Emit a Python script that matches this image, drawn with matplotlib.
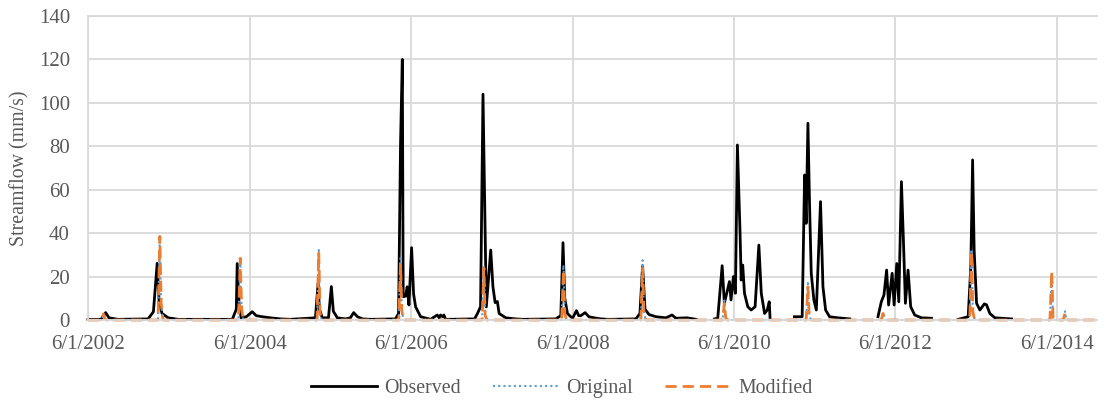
import numpy as np
import pandas as pd
import matplotlib
matplotlib.use("Agg")
import matplotlib.pyplot as plt

# observed streamflow (nan = missing record)
obs_dates = [
    "2002-06-01", "2002-07-30", "2002-08-20", "2002-09-04", "2002-10-15",
    "2003-02-28", "2003-03-24", "2003-04-10", "2003-04-19", "2003-05-02", "2003-05-30", "2003-07-14",
    "2004-03-15", "2004-04-02", "2004-04-06", "2004-04-15", "2004-04-24", "2004-05-17", "2004-06-13",
    "2004-07-01", "2004-07-29", "2004-09-03", "2004-10-18", "2004-12-02",
    "2005-03-26", "2005-04-07", "2005-04-13", "2005-04-26", "2005-05-24", "2005-06-06", "2005-06-15",
    "2005-07-03", "2005-08-09", "2005-08-31", "2005-09-15", "2005-10-02", "2005-10-25", "2005-11-30",
    "2006-03-23", "2006-04-06", "2006-04-15", "2006-04-23", "2006-04-27", "2006-05-08", "2006-05-15",
    "2006-05-23", "2006-06-04", "2006-06-13", "2006-06-22", "2006-07-15", "2006-08-29", "2006-09-28",
    "2006-10-07", "2006-10-13", "2006-10-22", "2006-10-28", "2006-11-05",
    "2007-03-16", "2007-03-29", "2007-04-12", "2007-04-23", "2007-05-08", "2007-05-28", "2007-06-07",
    "2007-06-17", "2007-06-27", "2007-07-05", "2007-08-04", "2007-09-18", "2007-10-20",
    "2008-03-17", "2008-04-09", "2008-04-19", "2008-04-27", "2008-05-09", "2008-05-24", "2008-06-02",
    "2008-06-19", "2008-06-29", "2008-07-09", "2008-07-28", "2008-08-14", "2008-09-07", "2008-10-07",
    "2008-11-10",
    "2009-03-15", "2009-04-02", "2009-04-14", "2009-04-25", "2009-05-13", "2009-06-14", "2009-07-29",
    "2009-08-25", "2009-09-12", "2009-10-31", "2009-12-12", "2010-01-20",
    "2010-03-05", "2010-03-20", "2010-04-09", "2010-04-19", "2010-05-12", "2010-05-19", "2010-05-30",
    "2010-06-08", "2010-06-17", "2010-06-29", "2010-07-04", "2010-07-11", "2010-07-19", "2010-08-03",
    "2010-08-18", "2010-09-05", "2010-09-22", "2010-10-03", "2010-10-18", "2010-10-30", "2010-11-08",
    "2010-11-12", "2011-01-01",
    "2011-03-02", "2011-04-06", "2011-04-17", "2011-04-24", "2011-05-02", "2011-05-09", "2011-05-17",
    "2011-05-29", "2011-06-09", "2011-06-28", "2011-07-09", "2011-07-21", "2011-08-08", "2011-09-15",
    "2011-11-07", "2012-01-01",
    "2012-03-14", "2012-03-29", "2012-04-10", "2012-04-22", "2012-05-01", "2012-05-17", "2012-05-26",
    "2012-06-07", "2012-06-16", "2012-06-28", "2012-07-07", "2012-07-16", "2012-07-28", "2012-08-09",
    "2012-08-27", "2012-09-26", "2012-11-11", "2013-01-01",
    "2013-03-12", "2013-04-26", "2013-05-08", "2013-05-16", "2013-05-23", "2013-06-03", "2013-06-18",
    "2013-07-08", "2013-07-18", "2013-08-02", "2013-08-25", "2013-11-08",
]
obs_flow = [
    0.3, 0.3, 3.4, 1.0, 0.3,
    0.5, 3.8, 26.1, 8.0, 3.0, 1.0, 0.3,
    0.3, 5.0, 26.0, 6.0, 1.0, 1.5, 3.8,
    2.0, 1.5, 1.0, 0.5, 0.3,
    1.0, 17.0, 5.0, 1.0, 1.0, 15.4, 4.0,
    1.0, 0.5, 1.0, 3.4, 1.5, 0.5, 0.3,
    0.5, 3.0, 81.4, 120.0, 10.7, 11.0, 15.3,
    6.9, 33.3, 12.0, 6.1, 1.5, 0.3, 2.3,
    1.0, 2.3, 1.5, 2.3, 0.3,
    0.5, 3.0, 6.1, 104.0, 6.0, 32.2, 15.3,
    8.0, 8.5, 3.0, 1.0, 0.5, 0.3,
    0.5, 2.0, 35.6, 10.0, 3.0, 1.5, 1.0,
    4.3, 2.0, 2.0, 3.4, 1.5, 1.0, 0.5,
    0.3,
    0.5, 3.0, 25.0, 5.0, 2.5, 1.5, 1.0,
    2.3, 0.8, 1.0, 0.3, np.nan,
    0.5, 0.8, 25.0, 7.7, 17.7, 9.2, 20.0,
    12.3, 80.6, 40.0, 18.4, 25.3, 12.3, 6.1,
    4.6, 6.1, 34.5, 12.3, 3.0, 4.6, 8.4,
    0.3, np.nan,
    1.5, 1.5, 66.8, 44.5, 90.6, 55.0, 21.5,
    9.2, 4.6, 54.5, 15.3, 4.6, 1.5, 1.0,
    0.5, np.nan,
    1.5, 8.4, 11.5, 23.0, 6.9, 21.5, 6.9,
    26.0, 8.4, 63.7, 36.8, 7.7, 23.0, 6.1,
    2.3, 1.0, 0.8, np.nan,
    0.3, 1.5, 24.6, 73.7, 32.2, 7.7, 4.6,
    7.4, 7.0, 3.0, 1.0, 0.5,
]

# simulated series (original and modified model) share the same dates
sim_dates = [
    "2002-06-01",
    "2002-08-02", "2002-08-10", "2002-08-16", "2002-08-24",
    "2003-04-14", "2003-04-22", "2003-04-28", "2003-05-06",
    "2004-04-12", "2004-04-20", "2004-04-26", "2004-05-04",
    "2005-04-02", "2005-04-10", "2005-04-16", "2005-04-24",
    "2006-04-07", "2006-04-15", "2006-04-21", "2006-04-29",
    "2007-04-19", "2007-04-27", "2007-05-03", "2007-05-11",
    "2008-04-13", "2008-04-21", "2008-04-27", "2008-05-05",
    "2009-04-06", "2009-04-14", "2009-04-20", "2009-04-28",
    "2010-04-11", "2010-04-19", "2010-04-25", "2010-05-03",
    "2011-04-24", "2011-05-02", "2011-05-08", "2011-05-16",
    "2012-03-29", "2012-04-06", "2012-04-12", "2012-04-20",
    "2013-05-03", "2013-05-11", "2013-05-17", "2013-05-25",
    "2014-05-01", "2014-05-09", "2014-05-15", "2014-05-23",
    "2014-06-30", "2014-07-08", "2014-07-14", "2014-07-22",
    "2014-11-30",
]
original = [
    0.0,
    0.0, 2.5, 0.5, 0.0,
    0.0, 37.5, 7.0, 0.0,
    0.0, 28.5, 5.0, 0.0,
    0.0, 32.2, 3.0, 0.0,
    0.0, 28.4, 4.0, 0.0,
    0.0, 25.0, 2.0, 0.0,
    0.0, 25.3, 3.0, 0.0,
    0.0, 27.5, 4.0, 0.0,
    0.0, 9.0, 1.0, 0.0,
    0.0, 17.0, 2.0, 0.0,
    0.0, 3.5, 0.5, 0.0,
    0.0, 32.5, 4.0, 0.0,
    0.0, 21.5, 1.0, 0.0,
    0.0, 4.0, 0.3, 0.0,
    0.0,
]
modified = [
    0.0,
    0.0, 2.8, 0.5, 0.0,
    0.0, 38.5, 8.0, 0.0,
    0.0, 28.4, 5.0, 0.0,
    0.0, 30.8, 3.0, 0.0,
    0.0, 26.0, 4.0, 0.0,
    0.0, 24.0, 2.0, 0.0,
    0.0, 23.0, 3.0, 0.0,
    0.0, 24.0, 4.0, 0.0,
    0.0, 7.7, 1.0, 0.0,
    0.0, 15.3, 2.0, 0.0,
    0.0, 3.0, 0.5, 0.0,
    0.0, 31.5, 4.0, 0.0,
    0.0, 22.3, 1.0, 0.0,
    0.0, 3.0, 0.3, 0.0,
    0.0,
]

tick_dates = ["2002-06-01", "2004-06-01", "2006-06-01", "2008-06-01",
              "2010-06-01", "2012-06-01", "2014-06-01"]
x_range = ["2002-06-01", "2014-11-30"]

grey = "#595959"
grid = "#D9D9D9"

plt.rcParams["font.family"] = ["Liberation Serif", "DejaVu Serif"]

fig, ax = plt.subplots(figsize=(11.04, 4.08), dpi=100)
fig.subplots_adjust(left=0.0797, right=0.9937, top=0.9608, bottom=0.2157)

ax.plot(pd.to_datetime(obs_dates), obs_flow, color="black", lw=2.0,
        label="Observed", clip_on=False, solid_joinstyle="round")
ax.plot(pd.to_datetime(sim_dates), original, color="#5B9BD5", lw=1.5,
        dashes=(1, 1.5), label="Original", clip_on=False)
ax.plot(pd.to_datetime(sim_dates), modified, color="#ED7D31", lw=2.0,
        dashes=(4, 2.2), label="Modified", clip_on=False)

ticks = pd.to_datetime(tick_dates)
ax.set_xticks(ticks)
ax.set_xticklabels([f"{d.month}/{d.day}/{d.year}" for d in ticks])
ax.set_xlim(pd.to_datetime(x_range[0]), pd.to_datetime(x_range[1]))
ax.set_ylim(0, 140)
ax.set_yticks(np.arange(0, 141, 20))

ax.grid(True, color=grid, lw=1.3)
ax.set_axisbelow(True)
for side in ["left", "bottom", "top"]:
    ax.spines[side].set_color(grid)
    ax.spines[side].set_linewidth(1.3)
ax.spines["right"].set_visible(False)

ax.tick_params(axis="both", length=0, labelsize=15, colors=grey)
ax.tick_params(axis="y", pad=13)
ax.tick_params(axis="x", pad=11)

ax.set_ylabel("Streamflow (mm/s)", fontsize=14.3, color=grey)
ax.yaxis.set_label_coords(-0.058, 0.5)

fig.legend(loc="center", bbox_to_anchor=(0.509, 0.049), ncol=3, frameon=False,
           fontsize=14.3, labelcolor=grey, handlelength=3.3, columnspacing=1.6,
           handletextpad=0.4)

fig.savefig("out.png", dpi=100)
